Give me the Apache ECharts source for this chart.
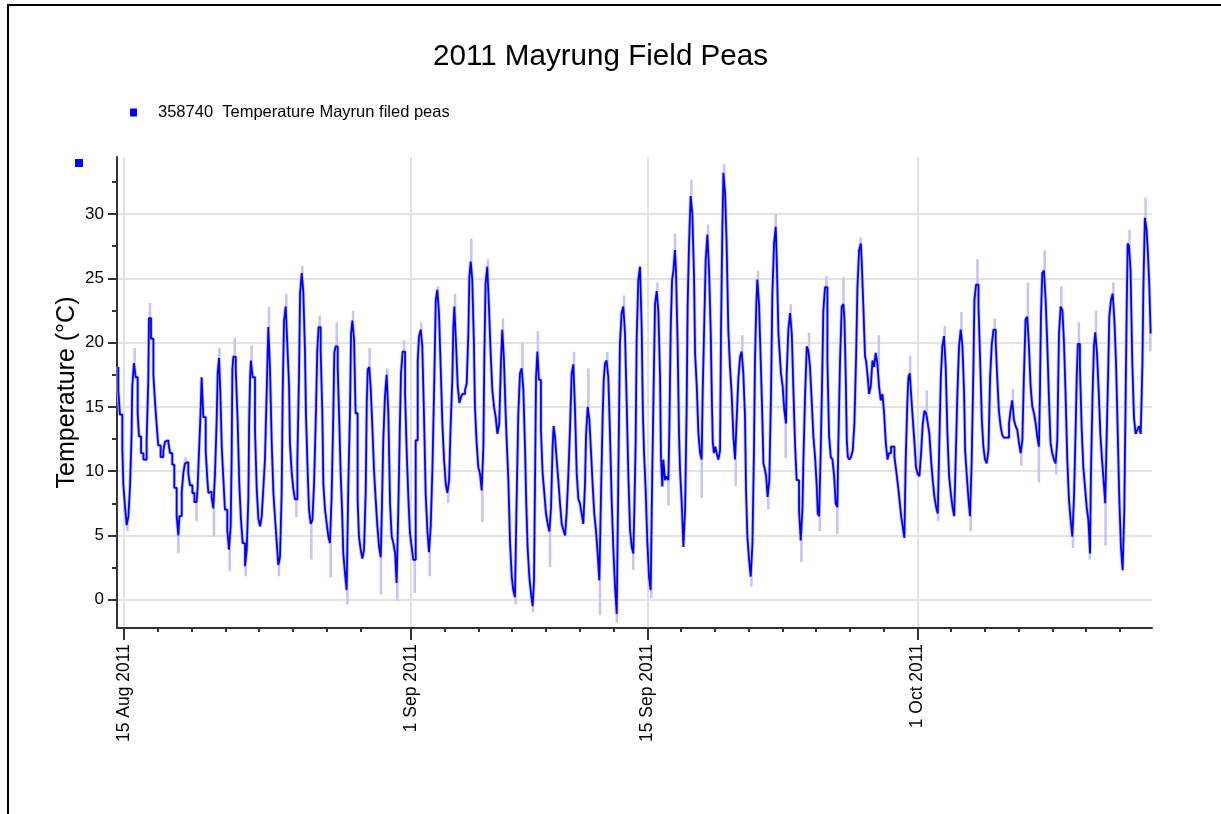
<!DOCTYPE html>
<html><head><meta charset="utf-8">
<script src="https://cdn.jsdelivr.net/npm/echarts@6/dist/echarts.min.js"></script>
<style>html,body{margin:0;padding:0;background:#fff;} #chart{width:1221px;height:814px;}</style>
</head><body><div id="chart"></div>
<script>
// ---- text ----
const chartTitle = '2011 Mayrung Field Peas';
const seriesName = '358740  Temperature Mayrun filed peas';
const yAxisName = 'Temperature (\u00B0C)';

// ---- axes (x in days since 15 Aug 2011 00:00) ----
const xRange = [-0.415, 60.9];
const yRange = [-2.2, 34.43];
const majorTickDays = [0, 17, 31, 47];
const majorTickLabels = ['15 Aug 2011', '1 Sep 2011', '15 Sep 2011', '1 Oct 2011'];
const minorTickDays = [2,4,6,8,10,12,14,19,21,23,25,27,29,33,35,37,39,41,43,45,49,51,53,55,57,59];
const yTickValues = [0,5,10,15,20,25,30];
const yMinorTickValues = [2.5,7.5,12.5,17.5,22.5,27.5,32.5];

// ---- readings [day, temperature °C] ----
const augustReadings = [[-0.34,18.1],[-0.24,16.3],[-0.10,14.4],[-0.04,11.8],[0.06,9.0],[0.16,7.2],[0.26,5.8],[0.36,6.5],[0.45,8.9],[0.49,12.9],[0.59,16.6],[0.69,18.4],[0.81,17.3],[0.89,14.5],[1.01,12.7],[1.15,11.4],[1.34,10.9],[1.44,12.4],[1.48,17.1],[1.60,21.9],[1.74,20.3],[1.84,17.5],[1.94,15.3],[2.03,13.5],[2.17,12.0],[2.33,11.1],[2.43,11.6],[2.53,12.3],[2.63,12.4],[2.73,12.2],[2.86,11.4],[2.98,10.5],[3.12,8.7],[3.22,6.5],[3.28,5.0],[3.42,6.5],[3.52,8.4],[3.61,9.9],[3.71,10.6],[3.81,10.7],[3.91,9.8],[4.05,8.9],[4.17,8.3],[4.30,7.6],[4.36,7.5],[4.44,8.7],[4.52,11.4],[4.60,14.0],[4.70,17.3],[4.84,14.2],[4.94,11.6],[5.00,9.3],[5.10,8.3],[5.19,8.4],[5.29,8.0],[5.39,7.1],[5.49,9.8],[5.55,14.0],[5.63,17.6],[5.71,18.8],[5.79,16.0],[5.89,11.9],[5.98,9.3],[6.12,7.0],[6.22,5.4],[6.32,3.9],[6.38,5.7],[6.42,11.4],[6.48,17.9],[6.62,18.9],[6.73,17.9],[6.83,14.0],[6.93,9.0],[7.03,6.2],[7.17,4.4],[7.27,2.6],[7.37,3.9],[7.41,8.0],[7.47,13.5],[7.52,17.3],[7.62,18.6],[7.76,17.3],[7.86,13.2],[7.96,8.7],[8.06,6.3],[8.16,5.7],[8.26,6.5],[8.35,8.8],[8.45,10.9],[8.55,16.0],[8.65,21.2],[8.75,17.9],[8.85,12.2],[8.95,8.3],[9.05,6.3],[9.14,4.4],[9.24,2.7],[9.34,3.3],[9.40,8.3],[9.48,16.0],[9.58,21.7],[9.68,22.8],[9.78,19.7],[9.83,16.6],[9.93,12.2],[10.03,10.0],[10.13,8.6],[10.27,7.8],[10.37,10.9],[10.43,17.6],[10.53,23.8],[10.62,25.4],[10.72,24.0],[10.78,19.4],[10.88,14.4],[10.96,10.0],[11.06,7.0],[11.16,5.9],[11.26,6.2],[11.37,9.0],[11.45,14.5],[11.53,19.4],[11.65,21.2],[11.75,19.4],[11.81,14.5],[11.91,9.0],[12.01,7.0],[12.11,5.9],[12.20,4.9],[12.30,4.4],[12.40,8.0],[12.46,14.5],[12.54,19.2],[12.66,19.7],[12.76,18.1],[12.84,13.5],[12.92,9.6],[12.99,7.0],[13.09,3.6],[13.19,2.1],[13.29,0.75],[13.39,9.0],[13.45,14.7],[13.53,20.7],[13.63,21.7],[13.72,20.2],[13.84,14.5],[13.92,7.8],[14.02,4.9],[14.12,3.9],[14.22,3.2],[14.32,3.9],[14.38,8.5],[14.44,15.2],[14.53,17.9],[14.61,18.1],[14.71,16.6],[14.81,13.5],[14.91,10.1],[15.01,7.8],[15.11,5.7],[15.21,4.1],[15.28,3.3],[15.36,7.2],[15.46,12.4],[15.56,15.8],[15.66,17.5],[15.76,14.5],[15.86,7.5],[15.96,4.9],[16.06,4.4],[16.15,3.6],[16.25,1.3],[16.35,7.0],[16.41,14.0],[16.51,17.6],[16.65,19.3],[16.75,16.0],[16.85,11.4],[16.94,7.8]];

const septemberReadings = [[17.04,5.2],[17.14,4.1],[17.28,3.1],[17.40,12.4],[17.48,18.6],[17.58,20.5],[17.67,21.0],[17.77,19.7],[17.87,14.5],[17.97,8.3],[18.07,5.4],[18.17,3.7],[18.27,5.7],[18.37,10.1],[18.47,16.3],[18.56,23.3],[18.66,24.1],[18.76,22.3],[18.86,18.1],[18.96,13.7],[19.06,10.9],[19.16,9.0],[19.26,8.3],[19.35,9.3],[19.45,13.5],[19.51,17.1],[19.57,21.2],[19.67,22.8],[19.77,19.9],[19.87,16.6],[19.97,15.3],[20.06,15.8],[20.20,16.0],[20.30,16.3],[20.40,16.8],[20.46,20.7],[20.54,25.1],[20.63,26.3],[20.73,24.9],[20.79,19.9],[20.89,15.0],[20.99,12.2],[21.09,10.3],[21.19,9.8],[21.29,8.5],[21.35,11.9],[21.42,19.2],[21.52,24.6],[21.62,25.9],[21.72,22.8],[21.82,19.2],[21.92,16.3],[22.02,15.0],[22.12,14.2],[22.23,12.9],[22.33,13.7],[22.41,18.4],[22.51,21.0],[22.61,18.6],[22.67,14.5],[22.77,12.4],[22.87,9.3],[22.97,4.4],[23.06,1.8],[23.16,0.75],[23.26,0.2],[23.36,7.8],[23.46,14.5],[23.56,17.6],[23.66,18.0],[23.76,16.3],[23.83,11.6],[23.91,7.5],[24.01,4.1],[24.11,1.8],[24.21,0.5],[24.29,-0.5],[24.35,1.5],[24.41,9.3],[24.49,17.3],[24.58,19.3],[24.70,17.1],[24.80,13.2],[24.90,9.8],[25.00,8.3],[25.10,6.7],[25.20,5.9],[25.30,5.3],[25.39,7.2],[25.45,11.9],[25.53,13.5],[25.63,12.7],[25.73,10.9],[25.83,9.3],[25.93,7.5],[26.03,5.9],[26.13,5.4],[26.22,5.0],[26.32,6.7],[26.42,9.6],[26.52,13.2],[26.62,17.6],[26.72,18.3],[26.82,14.7],[26.92,9.8],[27.01,7.8],[27.11,7.5],[27.21,6.7],[27.31,5.9],[27.37,9.0],[27.47,12.7],[27.57,15.0],[27.67,14.0],[27.76,11.4],[27.86,9.0],[27.96,6.7],[28.06,5.4],[28.16,3.6],[28.26,1.5],[28.36,8.3],[28.42,14.5],[28.50,17.1],[28.59,18.4],[28.69,18.6],[28.79,17.3],[28.89,12.9],[28.99,7.8],[29.09,3.9],[29.19,1.0],[29.25,-1.1],[29.32,5.7],[29.38,13.5],[29.48,19.9],[29.58,22.3],[29.68,22.8],[29.78,20.7],[29.88,15.3],[29.98,9.6],[30.08,5.4],[30.17,4.1],[30.23,3.6],[30.31,6.7],[30.37,12.2],[30.47,20.2],[30.57,24.9],[30.67,25.9],[30.74,21.0],[30.81,14.5],[30.91,11.4],[31.00,8.3],[31.10,4.6],[31.20,1.8],[31.30,0.75],[31.40,10.3],[31.46,18.4],[31.56,23.0],[31.66,24.0],[31.76,22.3],[31.81,17.1],[31.89,11.1],[31.95,8.8],[32.05,10.9],[32.15,9.3],[32.25,9.6],[32.31,9.3],[32.39,13.5],[32.47,21.2],[32.55,24.9],[32.64,25.6],[32.70,27.2],[32.80,25.6],[32.88,19.7],[32.94,12.9],[33.04,10.1],[33.14,7.5],[33.24,4.1],[33.33,7.0],[33.39,14.7],[33.47,22.8],[33.57,27.5],[33.67,31.4],[33.77,30.0],[33.83,25.1],[33.93,19.2],[34.03,16.6],[34.13,12.9],[34.22,11.4],[34.28,10.9],[34.38,16.0],[34.46,21.8],[34.56,26.4],[34.66,28.4],[34.76,25.6],[34.82,20.7],[34.88,16.0],[34.95,12.2],[35.03,11.4],[35.11,11.9],[35.21,11.4],[35.31,10.9],[35.37,11.6],[35.45,21.2],[35.51,29.0],[35.61,33.2],[35.70,31.6],[35.80,27.7],[35.90,21.0],[36.00,18.1],[36.10,16.0],[36.20,12.7],[36.30,10.9],[36.40,14.2],[36.50,17.3],[36.59,18.9],[36.69,19.3],[36.79,17.6],[36.85,14.2],[36.93,8.5],[37.03,4.9],[37.13,3.1],[37.23,1.8],[37.32,4.4],[37.38,11.6],[37.46,18.6],[37.52,23.0],[37.62,24.9],[37.72,23.0],[37.82,18.6],[37.88,14.0],[37.94,10.6],[38.04,10.3],[38.13,9.6],[38.23,8.0],[38.33,9.3],[38.41,16.0],[38.51,23.8],[38.61,27.7],[38.67,29.0],[38.77,26.4],[38.87,20.7],[38.92,18.6],[39.02,17.6],[39.12,16.6],[39.22,14.7],[39.26,13.7],[39.36,17.6],[39.46,21.0],[39.56,22.3],[39.65,20.7],[39.75,16.6],[39.85,12.2],[39.99,9.3],[40.09,7.0],[40.19,4.6],[40.25,7.0],[40.35,10.9],[40.45,16.0],[40.54,19.7],[40.64,19.4],[40.74,18.1],[40.84,15.5],[40.94,12.7],[41.04,11.1],[41.10,8.8],[41.18,6.7],[41.28,6.5],[41.37,11.9],[41.43,17.9],[41.53,22.5],[41.67,24.3],[41.77,18.6],[41.87,12.7],[41.97,11.1],[42.07,10.9],[42.16,9.6],[42.26,7.5],[42.32,7.2],[42.42,12.2],[42.52,18.6],[42.62,22.8],[42.68,23.0],[42.76,21.8],[42.82,17.1],[42.88,12.4],[42.97,11.1],[43.07,10.9],[43.17,11.1],[43.27,11.6],[43.37,13.7],[43.45,18.9],[43.55,24.3],[43.65,27.2],[43.70,27.7],[43.80,26.4],[43.90,22.8],[43.96,18.9],[44.06,18.6],[44.14,17.3],[44.24,16.0],[44.34,16.6],[44.44,18.6],[44.53,18.1],[44.63,19.2],[44.73,18.4],[44.83,16.6],[44.93,15.5],[45.03,16.0],[45.13,14.5],[45.23,12.2],[45.32,10.9],[45.44,11.4],[45.54,11.9],[45.64,11.9],[45.74,11.1],[45.84,10.1],[45.94,9.0],[46.04,7.8],[46.13,6.5],[46.23,5.7],[46.31,4.8],[46.41,10.9],[46.47,15.5],[46.55,17.3],[46.63,17.6],[46.73,16.0],[46.83,14.0],[46.92,12.2]];

const octoberReadings = [[47.02,10.3],[47.12,9.8],[47.22,9.6],[47.32,11.4],[47.42,13.7],[47.52,14.7],[47.62,14.5],[47.71,13.7],[47.81,12.9],[47.91,10.9],[48.01,9.3],[48.11,8.0],[48.21,7.2],[48.29,6.7],[48.39,11.6],[48.48,17.3],[48.58,19.7],[48.68,20.5],[48.78,18.1],[48.88,12.9],[48.98,9.6],[49.08,8.3],[49.18,7.2],[49.27,6.5],[49.37,10.9],[49.47,16.0],[49.57,19.7],[49.67,21.0],[49.77,19.7],[49.83,16.0],[49.93,11.6],[50.03,9.6],[50.12,7.8],[50.22,6.5],[50.32,10.9],[50.38,18.1],[50.48,23.3],[50.62,24.5],[50.72,22.8],[50.82,18.6],[50.91,14.0],[51.01,11.9],[51.11,10.9],[51.21,10.6],[51.31,11.6],[51.41,17.3],[51.51,19.9],[51.64,21.0],[51.73,20.1],[51.83,17.3],[51.93,14.7],[52.03,13.5],[52.13,12.8],[52.29,12.6],[52.43,12.6],[52.52,13.7],[52.62,14.7],[52.72,15.5],[52.82,14.0],[52.92,13.5],[53.02,13.2],[53.12,12.2],[53.22,11.4],[53.31,12.4],[53.41,17.3],[53.51,21.8],[53.61,22.0],[53.71,19.7],[53.81,16.6],[53.91,15.0],[54.01,14.5],[54.10,13.7],[54.20,12.7],[54.26,11.9],[54.32,16.0],[54.40,22.0],[54.50,25.4],[54.60,25.6],[54.70,23.3],[54.80,19.7],[54.89,15.5],[54.99,12.2],[55.09,11.4],[55.19,10.9],[55.29,10.6],[55.39,12.4],[55.49,20.7],[55.59,22.8],[55.68,22.5],[55.78,20.2],[55.88,16.0],[55.98,10.9],[56.08,7.8],[56.18,6.2],[56.28,4.9],[56.38,8.0],[56.44,13.5],[56.51,17.3],[56.63,19.9],[56.73,18.1],[56.83,13.5],[56.93,10.3],[57.03,8.8],[57.13,7.2],[57.23,6.2],[57.28,3.6],[57.38,9.6],[57.46,16.0],[57.54,19.7],[57.64,20.8],[57.74,19.2],[57.84,16.3],[57.94,12.9],[58.03,10.9],[58.13,9.3],[58.21,7.5],[58.31,12.4],[58.37,18.1],[58.47,22.0],[58.57,23.3],[58.67,23.8],[58.77,21.8],[58.86,18.4],[58.96,13.5],[59.06,8.0],[59.16,4.1],[59.26,2.3],[59.34,7.0],[59.40,16.0],[59.46,22.5],[59.54,27.7],[59.63,27.5],[59.73,25.6],[59.83,18.6],[59.93,14.2],[60.03,12.9],[60.13,13.2],[60.23,13.5],[60.33,12.9],[60.39,18.1],[60.48,24.3],[60.58,29.7],[60.66,28.8],[60.74,26.9],[60.82,24.5],[60.86,20.7]];

// ---- light envelope extremes [day, low, high] ----
const augustExtremes = [[0.26,5.4,5.8],[0.69,18.4,19.5],[1.60,21.9,23.0],[3.28,3.7,5.0],[3.71,10.6,11.0],[4.36,6.2,7.5],[5.39,5.0,7.1],[5.71,18.8,19.5],[6.32,2.3,3.9],[6.62,18.9,20.3],[7.27,1.9,2.6],[7.62,18.6,19.7],[8.65,21.2,22.7],[9.24,1.9,2.7],[9.68,22.8,23.7],[10.27,6.5,7.8],[10.62,25.4,25.9],[11.16,3.2,5.9],[11.65,21.2,22.0],[12.30,1.8,4.4],[12.66,19.7,21.5],[13.29,-0.3,0.75],[13.63,21.7,22.4],[14.61,18.1,19.5],[15.28,0.5,3.3],[15.66,17.5,17.9],[16.25,0.0,1.3],[16.65,19.3,20.1]];
const septemberExtremes = [[17.28,0.6,3.1],[17.67,21.0,21.5],[18.17,1.9,3.7],[18.66,24.1,24.3],[19.26,7.6,8.3],[19.67,22.8,23.7],[20.63,26.3,28.0],[21.29,6.1,8.5],[21.62,25.9,26.4],[22.51,21.0,21.8],[23.26,-0.3,0.2],[23.66,18.0,19.9],[24.29,-0.9,-0.5],[24.58,19.3,20.8],[25.30,2.6,5.3],[26.72,18.3,19.2],[27.57,15.0,17.9],[28.26,-1.1,1.5],[28.69,18.6,19.2],[29.25,-1.7,-1.1],[29.68,22.8,23.6],[30.23,2.4,3.6],[31.30,0.2,0.75],[31.66,24.0,24.6],[32.31,7.4,9.3],[32.70,27.2,28.4],[33.67,31.4,32.6],[34.28,8.0,10.9],[34.66,28.4,29.1],[35.61,33.2,33.8],[36.30,8.9,10.9],[36.69,19.3,20.5],[37.23,1.1,1.8],[37.62,24.9,25.5],[38.23,7.1,8.0],[38.67,29.0,29.9],[39.26,11.1,13.7],[39.56,22.3,22.9],[40.19,3.0,4.6],[40.64,19.7,20.7],[41.28,5.4,6.5],[41.67,24.3,25.1],[42.32,5.2,7.2],[42.68,23.0,25.0],[43.70,27.7,28.1],[44.78,16.6,20.5],[46.63,17.6,18.9]];
const octoberExtremes = [[47.62,14.7,16.2],[48.29,6.2,6.7],[48.68,20.5,21.2],[49.67,21.0,22.3],[50.22,5.4,6.5],[50.62,24.5,26.4],[51.64,21.0,21.8],[52.72,15.5,16.3],[53.22,10.5,11.4],[53.61,22.0,24.6],[54.26,9.2,11.9],[54.60,25.6,27.1],[55.29,9.8,10.6],[55.59,22.8,24.3],[56.28,4.1,4.9],[56.63,19.9,21.5],[57.28,3.2,3.6],[57.64,20.8,22.4],[58.21,4.3,7.5],[58.67,23.8,24.6],[59.63,27.5,28.7],[60.58,29.7,31.2],[60.86,19.4,20.7]];

const readings = augustReadings.concat(septemberReadings, octoberReadings);
const extremes = augustExtremes.concat(septemberExtremes, octoberExtremes);

const FONT = '"Liberation Sans", Arial, sans-serif';
const AXIS_COLOR = '#333';
const GRID_COLOR = '#e3e3e3';
const BLUE = '#0000ff';
const LAVENDER = '#c4c4f6';

const gridBox = { left: 117, right: 69, top: 157, bottom: 186 };

const chart = echarts.init(document.getElementById('chart'), null, { renderer: 'canvas' });
chart.setOption({
  animation: false,
  textStyle: { fontFamily: FONT },
  title: {
    text: chartTitle, left: 428, top: 37,
    textStyle: { fontSize: 29.6, fontWeight: 'normal', color: '#000', fontFamily: FONT }
  },
  legend: {
    data: [seriesName], left: 125, top: 99, icon: 'rect', itemWidth: 7, itemHeight: 8,
    selectedMode: false,
    textStyle: { fontSize: 16.5, color: '#000', fontFamily: FONT, padding: [0, 0, 0, 16] }
  },
  grid: [Object.assign({}, gridBox), Object.assign({}, gridBox)],
  xAxis: [{
    type: 'value', gridIndex: 0, min: xRange[0], max: xRange[1],
    axisLine: { show: true, onZero: false, lineStyle: { color: AXIS_COLOR, width: 2 } },
    axisTick: { show: true, customValues: majorTickDays, length: 12, lineStyle: { color: AXIS_COLOR, width: 2 } },
    axisLabel: {
      customValues: majorTickDays, rotate: 90, margin: 16, fontSize: 17.5, color: '#000', fontFamily: FONT,
      formatter: v => { const i = majorTickDays.indexOf(Math.round(v)); return i >= 0 ? majorTickLabels[i] : ''; }
    },
    splitLine: { show: true, lineStyle: { color: GRID_COLOR, width: 2 } }
  }, {
    type: 'value', gridIndex: 1, min: xRange[0], max: xRange[1],
    axisLine: { show: false, onZero: false },
    axisTick: { show: true, customValues: minorTickDays, length: 4, lineStyle: { color: AXIS_COLOR, width: 2 } },
    axisLabel: { show: false }, splitLine: { show: false }
  }],
  yAxis: [{
    type: 'value', gridIndex: 0, min: yRange[0], max: yRange[1],
    name: yAxisName, nameLocation: 'middle', nameRotate: 90, nameGap: 37, nameMoveOverlap: false,
    nameTextStyle: { fontSize: 25, color: '#000', fontFamily: FONT },
    axisLine: { show: true, onZero: false, lineStyle: { color: AXIS_COLOR, width: 2 } },
    axisTick: { show: true, customValues: yTickValues, length: 9, lineStyle: { color: AXIS_COLOR, width: 2 } },
    axisLabel: { customValues: yTickValues, margin: 13, fontSize: 17, color: '#000', fontFamily: FONT },
    splitLine: { show: true, lineStyle: { color: GRID_COLOR, width: 2 } }
  }, {
    type: 'value', gridIndex: 1, min: yRange[0], max: yRange[1],
    axisLine: { show: false, onZero: false },
    axisTick: { show: true, customValues: yMinorTickValues, length: 5, lineStyle: { color: AXIS_COLOR, width: 2 } },
    axisLabel: { show: false }, splitLine: { show: false }
  }],
  graphic: [
    { type: 'rect', x: 8, y: 5, shape: { width: 1400, height: 1000 }, style: { fill: 'transparent', stroke: '#000', lineWidth: 2 }, silent: true, z: 100 },
    { type: 'rect', x: 75, y: 159, shape: { width: 8, height: 8 }, style: { fill: BLUE }, silent: true }
  ],
  series: [{
    name: 'extremes', type: 'custom', xAxisIndex: 0, yAxisIndex: 0, data: extremes, z: 1,
    encode: { x: 0, y: [1, 2] },
    renderItem: (params, api) => {
      const a = api.coord([api.value(0), api.value(1)]);
      const b = api.coord([api.value(0), api.value(2)]);
      return { type: 'line', shape: { x1: a[0] - 1, y1: a[1] + 1, x2: b[0] - 1, y2: b[1] - 1 }, style: { stroke: LAVENDER, lineWidth: 2.5 } };
    }
  }, {
    name: 'halo', type: 'line', xAxisIndex: 0, yAxisIndex: 0, data: readings, z: 2, step: 'start',
    showSymbol: false, symbol: 'none', lineStyle: { color: LAVENDER, width: 3.5 }
  }, {
    name: seriesName, type: 'line', xAxisIndex: 0, yAxisIndex: 0, data: readings, z: 3, step: 'start',
    showSymbol: false, symbol: 'none', color: BLUE, lineStyle: { color: BLUE, width: 1.8 }
  }]
});
</script></body></html>
